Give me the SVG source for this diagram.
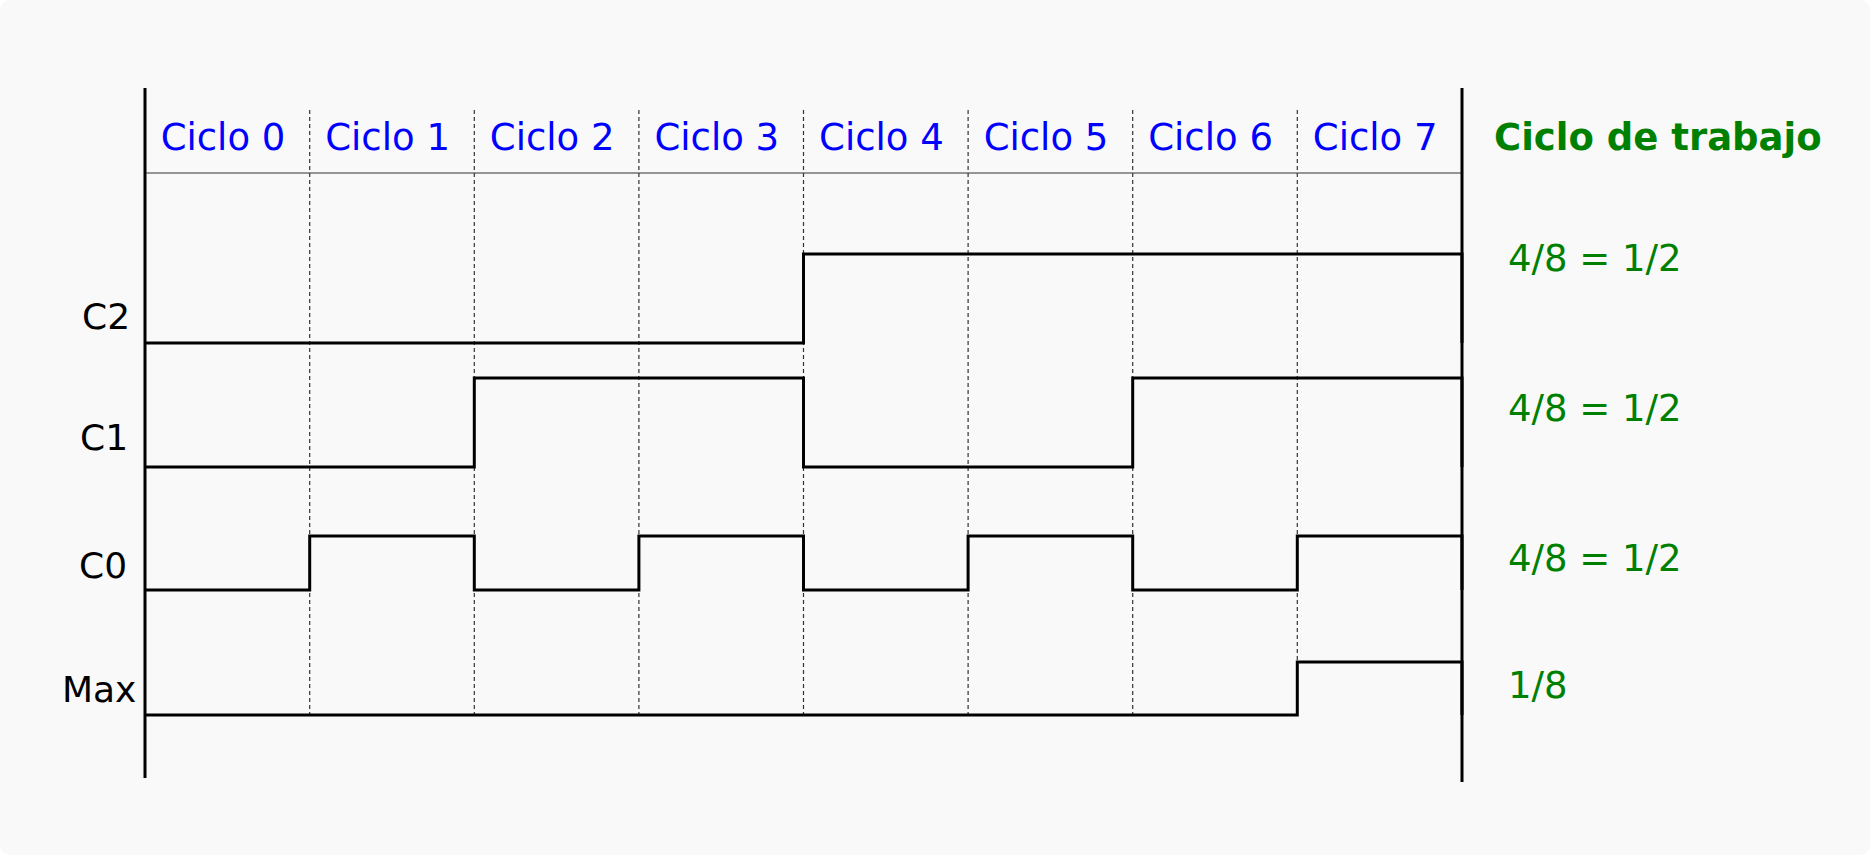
<svg xmlns="http://www.w3.org/2000/svg" width="1870" height="855" viewBox="0 0 1870 855">
  <style>
    text { font-family: "DejaVu Sans", "Liberation Sans", sans-serif; }
    .cyc { font-size: 37px; fill: #0000ff; text-anchor: middle; }
    .lbl { font-size: 36px; fill: #000000; }
    .duty { font-size: 37px; fill: #008000; }
    .title { font-size: 37px; fill: #008000; font-weight: bold; }
    .axis { stroke: #000; stroke-width: 3; fill: none; }
    .grid { stroke: #333; stroke-width: 1.2; stroke-dasharray: 4 3; fill: none; }
    .head { stroke: #333; stroke-width: 1.2; fill: none; }
    .sig { stroke: #000; stroke-width: 3; fill: none; stroke-linejoin: miter; }
  </style>
  <rect x="0" y="0" width="1870" height="855" rx="10" ry="10" fill="#f9f9f9"/>

  <g id="grid">
    <line class="head" x1="145" y1="173" x2="1462" y2="173"/>
    <line class="grid" x1="309.7" y1="110" x2="309.7" y2="715"/>
    <line class="grid" x1="474.3" y1="110" x2="474.3" y2="715"/>
    <line class="grid" x1="638.9" y1="110" x2="638.9" y2="715"/>
    <line class="grid" x1="803.5" y1="110" x2="803.5" y2="715"/>
    <line class="grid" x1="968.1" y1="110" x2="968.1" y2="715"/>
    <line class="grid" x1="1132.7" y1="110" x2="1132.7" y2="715"/>
    <line class="grid" x1="1297.3" y1="110" x2="1297.3" y2="715"/>
  </g>

  <g id="axes">
    <line class="axis" x1="145" y1="88" x2="145" y2="778"/>
    <line class="axis" x1="1462" y1="88" x2="1462" y2="782"/>
  </g>

  <g id="header">
    <text class="cyc" x="223" y="150">Ciclo 0</text>
    <text class="cyc" x="387.6" y="150">Ciclo 1</text>
    <text class="cyc" x="552.2" y="150">Ciclo 2</text>
    <text class="cyc" x="716.8" y="150">Ciclo 3</text>
    <text class="cyc" x="881.4" y="150">Ciclo 4</text>
    <text class="cyc" x="1046" y="150">Ciclo 5</text>
    <text class="cyc" x="1210.6" y="150">Ciclo 6</text>
    <text class="cyc" x="1375.2" y="150">Ciclo 7</text>
    <text class="title" x="1494" y="150">Ciclo de trabajo</text>
  </g>

  <g id="signals">
    <g id="C2">
      <text class="lbl" x="82" y="329">C2</text>
      <polyline class="sig" points="145,343 803.5,343 803.5,254 1462,254 1462,343"/>
      <text class="duty" x="1508" y="271">4/8 = 1/2</text>
    </g>
    <g id="C1">
      <text class="lbl" x="80" y="450">C1</text>
      <polyline class="sig" points="145,467 474.3,467 474.3,378 803.5,378 803.5,467 1132.7,467 1132.7,378 1462,378 1462,467"/>
      <text class="duty" x="1508" y="421">4/8 = 1/2</text>
    </g>
    <g id="C0">
      <text class="lbl" x="79" y="578">C0</text>
      <polyline class="sig" points="145,590 309.7,590 309.7,536 474.3,536 474.3,590 638.9,590 638.9,536 803.5,536 803.5,590 968.1,590 968.1,536 1132.7,536 1132.7,590 1297.3,590 1297.3,536 1462,536 1462,590"/>
      <text class="duty" x="1508" y="571">4/8 = 1/2</text>
    </g>
    <g id="Max">
      <text class="lbl" x="62" y="702">Max</text>
      <polyline class="sig" points="145,715 1297.3,715 1297.3,662 1462,662 1462,715"/>
      <text class="duty" x="1508" y="698">1/8</text>
    </g>
  </g>
</svg>
